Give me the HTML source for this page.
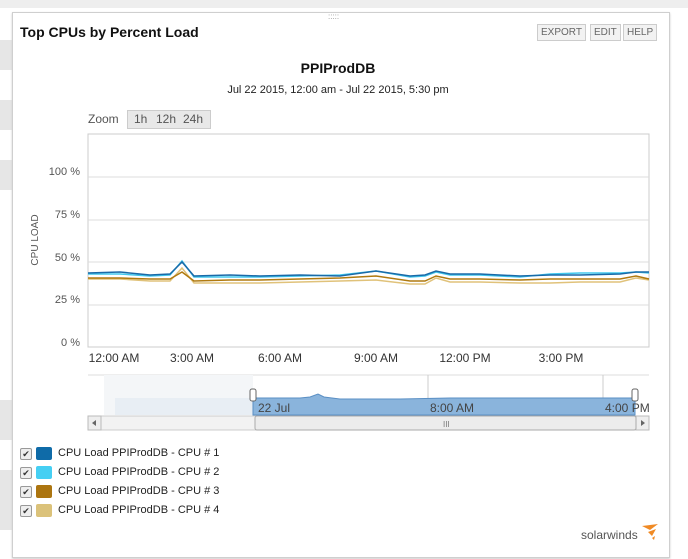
<!DOCTYPE html>
<html><head><style>
body{margin:0;width:688px;height:559px;background:#fff;position:relative;overflow:hidden;font-family:"Liberation Sans",Arial,sans-serif;}
.stripe{position:absolute;left:0;width:12px;background:#e6e6e6;}
.panel{position:absolute;left:12px;top:12px;width:656px;height:544px;border:1px solid #cfcfcf;background:#fff;box-shadow:0 1px 2px #ccc;}
.btn{position:absolute;top:24px;height:15px;border:1px solid #ccc;background:#f2f2f2;font-size:10px;color:#666;line-height:15px;padding:0 3px;}
.lg{position:absolute;left:20px;font-size:11px;color:#222;}
.cb{position:absolute;left:0;top:1px;width:10px;height:10px;border:1px solid #999;border-radius:2px;background:#eee;font-size:9px;line-height:10px;text-align:center;color:#333}
.sw{position:absolute;left:16px;top:0;width:16px;height:13px;border-radius:2px}
.tx{position:absolute;left:38px;top:0;white-space:nowrap}
</style></head><body>
<div style="position:absolute;left:0;top:0;width:688px;height:8px;background:#eee"></div>
<div class="stripe" style="top:40px;height:30px"></div>
<div class="stripe" style="top:100px;height:30px"></div>
<div class="stripe" style="top:160px;height:30px"></div>
<div class="stripe" style="top:400px;height:40px"></div>
<div class="stripe" style="top:470px;height:60px"></div>
<div class="panel"></div>
<div style="position:absolute;left:328px;top:12px;font-size:8px;color:#999;letter-spacing:0">:::::</div>
<div style="position:absolute;left:20px;top:24px;font-size:14px;font-weight:bold;color:#111">Top CPUs by Percent Load</div>
<div class="btn" style="left:537px">EXPORT</div>
<div class="btn" style="left:590px">EDIT</div>
<div class="btn" style="left:623px">HELP</div>
<div style="position:absolute;left:0;width:676px;top:60px;text-align:center;font-size:14px;font-weight:bold;color:#111">PPIProdDB</div>
<div style="position:absolute;left:0;width:676px;top:84px;text-align:center;font-size:11px;color:#222">Jul 22 2015, 12:00 am - Jul 22 2015, 5:30 pm</div>
<div style="position:absolute;left:88px;top:112px;font-size:12px;color:#555">Zoom</div>
<div style="position:absolute;left:127px;top:110px;width:82px;height:17px;background:#e8e8e8;border:1px solid #ccc;font-size:12px;color:#555;line-height:17px">
<span style="position:absolute;left:6px">1h</span><span style="position:absolute;left:28px">12h</span><span style="position:absolute;left:55px">24h</span></div>
<svg style="position:absolute;left:0;top:0" width="688" height="559">
<rect x="88" y="134" width="561" height="213" fill="none" stroke="#ccc"/>
<g stroke="#ddd"><line x1="88" x2="649" y1="177" y2="177"/><line x1="88" x2="649" y1="220" y2="220"/><line x1="88" x2="649" y1="262" y2="262"/><line x1="88" x2="649" y1="305" y2="305"/></g>
<g font-size="11" fill="#555" text-anchor="end"><text x="80" y="175">100 %</text><text x="80" y="218">75 %</text><text x="80" y="261">50 %</text><text x="80" y="303">25 %</text><text x="80" y="346">0 %</text></g>
<text x="38" y="240" font-size="10" fill="#555" text-anchor="middle" transform="rotate(-90 38 240)">CPU LOAD</text>
<g font-size="12" fill="#333" text-anchor="middle"><text x="114" y="362">12:00 AM</text><text x="192" y="362">3:00 AM</text><text x="280" y="362">6:00 AM</text><text x="376" y="362">9:00 AM</text><text x="465" y="362">12:00 PM</text><text x="561" y="362">3:00 PM</text></g>
<g fill="none" stroke-width="1.5">
<polyline stroke="#e0c27a" points="88,279 120,279 150,281 170,281 182,268 194,283 230,283 260,283 300,282 340,281 376,280 410,284 425,284 436,278 450,282 480,282 520,283 550,283 580,282 620,282 636,278 649,280"/>
<polyline stroke="#b07a10" points="88,278 120,278 150,279 170,279 182,272 194,281 230,280 260,280 300,279 340,278 376,276 410,281 425,281 436,276 450,279 480,279 520,280 550,279 580,279 620,279 636,276 649,279"/>
<polyline stroke="#40c8ee" points="88,274 120,274 150,276 170,275 182,261 194,277 230,277 260,277 300,276 340,275 376,271 410,277 425,276 436,272 450,275 480,275 520,277 550,274 580,273 620,273 636,272 649,273"/>
<polyline stroke="#1a6aa8" points="88,273 120,272 150,275 170,274 182,262 194,276 230,275 260,276 300,275 340,276 376,271 410,276 425,275 436,271 450,274 480,274 520,276 550,275 580,275 620,274 636,272 649,272"/>
</g>
<rect x="88" y="375" width="561" height="40" fill="#fff"/>
<line x1="88" x2="649" y1="375" y2="375" stroke="#ddd"/>
<rect x="104" y="375" width="149" height="40" fill="#f4f6f8"/>
<rect x="115" y="398" width="138" height="17" fill="#e8eef4"/>
<line x1="428" x2="428" y1="375" y2="415" stroke="#ccc"/>
<line x1="603" x2="603" y1="375" y2="415" stroke="#ccc"/>
<path d="M253,398 L300,398 L310,397 L318,394 L324,397 L340,399 L400,399 L450,398 L500,398 L560,398 L635,398 L635,415 L253,415Z" fill="#8ab4dc" stroke="#5a8fc4"/>
<g font-size="12" fill="#444"><text x="258" y="412">22 Jul</text><text x="430" y="412">8:00 AM</text><text x="605" y="412">4:00 PM</text></g>
<rect x="250" y="389" width="6" height="12" rx="2" fill="#fff" stroke="#666"/>
<rect x="632" y="389" width="6" height="12" rx="2" fill="#fff" stroke="#666"/>
<rect x="88" y="416" width="561" height="14" fill="#f2f2f2" stroke="#ccc"/>
<rect x="88" y="416" width="13" height="14" fill="#eee" stroke="#bbb"/>
<rect x="636" y="416" width="13" height="14" fill="#eee" stroke="#bbb"/>
<rect x="255" y="416" width="381" height="14" rx="2" fill="#ececec" stroke="#aaa"/>
<text x="443" y="427" font-size="8" fill="#777">III</text>
<path d="M96,420 L92,423 L96,426Z M641,420 L645,423 L641,426Z" fill="#666"/>
</svg>
<div class="lg" style="top:447px"><div class="cb">✔</div><div class="sw" style="background:#0f6ba8"></div><div class="tx">CPU Load PPIProdDB - CPU # 1</div></div>
<div class="lg" style="top:466px"><div class="cb">✔</div><div class="sw" style="background:#45cff3"></div><div class="tx">CPU Load PPIProdDB - CPU # 2</div></div>
<div class="lg" style="top:485px"><div class="cb">✔</div><div class="sw" style="background:#ac7510"></div><div class="tx">CPU Load PPIProdDB - CPU # 3</div></div>
<div class="lg" style="top:504px"><div class="cb">✔</div><div class="sw" style="background:#dbc27a"></div><div class="tx">CPU Load PPIProdDB - CPU # 4</div></div>
<div style="position:absolute;left:581px;top:528px;font-size:12px;color:#555">solarwinds</div>
<svg style="position:absolute;left:640px;top:522px" width="20" height="20"><path d="M2,4 L18,2 L10,8Z M8,10 L16,7 L12,14Z M12,16 L15,14 L14,18Z" fill="#f08a24"/></svg>
</body></html>
